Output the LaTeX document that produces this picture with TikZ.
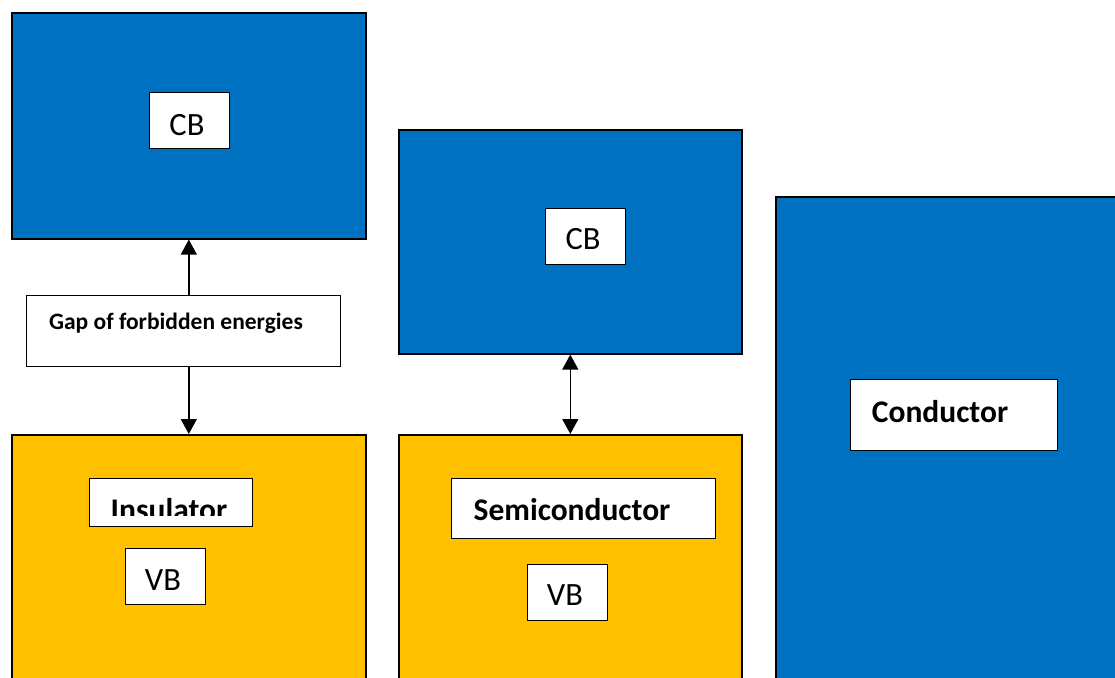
\documentclass[tikz,border=0pt]{standalone}
\usepackage{fontspec}
\setmainfont{Carlito}
\usetikzlibrary{arrows.meta}
\definecolor{cband}{HTML}{0070C0}
\definecolor{vband}{HTML}{FFC000}
\tikzset{
  box/.style={draw=black, line width=1.6pt, rectangle, inner sep=0pt, anchor=north west},
  cbandbox/.style={box, fill=cband},
  vbandbox/.style={box, fill=vband},
  labelbox/.style={box, fill=white, line width=1.4pt},
  txt/.style={inner sep=0pt, anchor=base, text=black},
  reg/.style={txt, font=\fontsize{32.5}{38}\selectfont},
  bld/.style={txt, font=\fontsize{31.5}{36}\selectfont\bfseries},
  tip/.style={Triangle[length=15pt,width=16pt]},
  gap/.style={-{Triangle[length=15pt,width=16pt]}, line width=1.4pt},
  gapboth/.style={{Triangle[length=15pt,width=16pt]}-{Triangle[length=15pt,width=16pt]}, line width=1.4pt}
}
\begin{document}
\begin{tikzpicture}[x=1pt, y=-1pt]
\clip (0,0) rectangle (1115,677);
\fill[white] (0,0) rectangle (1115,677);

% Insulator column
\node[cbandbox, minimum width=354pt, minimum height=226pt] (icb) at (11,12) {};
\node[labelbox, minimum width=80pt, minimum height=56pt] (icbl) at (149,92) {};
\node[reg] (icbt) at (187,135) {CB};
\node[vbandbox, minimum width=354pt, minimum height=260pt] (ivb) at (11,434) {};
\node[labelbox, minimum width=163pt, minimum height=48pt] (insl) at (89,478) {};
\begin{scope}
  \clip (89,478) rectangle (252,515);
  \node[bld] (inst) at (169,520) {Insulator};
\end{scope}
\node[labelbox, minimum width=80pt, minimum height=56pt] (ivbl) at (125,548) {};
\node[reg] (ivbt) at (163,590) {VB};

% Gap label with arrows to both bands
\node[labelbox, minimum width=314pt, minimum height=71pt] (gapl) at (26,295) {};
\node[txt, font=\fontsize{23.5}{28}\selectfont\bfseries] (gapt) at (176,329) {Gap of forbidden energies};
\draw[gap] (gapl.north -| icb.south) -- (icb.south);
\draw[gap] (gapl.south -| ivb.north) -- (ivb.north);

% Semiconductor column
\node[cbandbox, minimum width=343pt, minimum height=224pt] (scb) at (398,129) {};
\node[labelbox, minimum width=80pt, minimum height=56pt] (scbl) at (545,208) {};
\node[reg] (scbt) at (583,249) {CB};
\node[vbandbox, minimum width=343pt, minimum height=260pt] (svb) at (398,434) {};
\node[labelbox, minimum width=264pt, minimum height=60pt] (seml) at (451,478) {};
\node[bld] (semt) at (572,520) {Semiconductor};
\node[labelbox, minimum width=80pt, minimum height=56pt] (svbl) at (527,564) {};
\node[reg] (svbt) at (565,605) {VB};
\draw[gapboth] (scb.south) -- (svb.north);

% Conductor column
\node[cbandbox, minimum width=360pt, minimum height=500pt] (cnd) at (775,196) {};
\node[labelbox, minimum width=207pt, minimum height=71pt] (cndl) at (850,379) {};
\node[bld] (cndt) at (940,422) {Conductor};
\end{tikzpicture}
\end{document}
